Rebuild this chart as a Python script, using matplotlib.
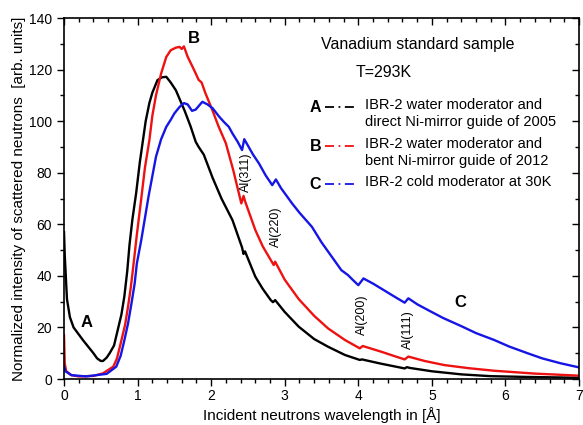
import numpy as np
import matplotlib
matplotlib.use('Agg')
import matplotlib.pyplot as plt
from matplotlib.ticker import MultipleLocator

plt.rcParams['font.family'] = ['Liberation Sans', 'DejaVu Sans']

#------------------------------------DATA----------------------------------------#

# A: IBR-2 water moderator, direct Ni-mirror guide (2005)
wl_a = [0, 0.01, 0.04, 0.08, 0.13, 0.26, 0.40, 0.45, 0.50, 0.53, 0.58, 0.62, 0.68, 0.73,
        0.78, 0.82, 0.86, 0.89, 0.93, 0.98, 1.03, 1.07, 1.11, 1.16, 1.20, 1.27, 1.33, 1.39,
        1.45, 1.52, 1.64, 1.72, 1.79, 1.83, 1.90, 2.02, 2.14, 2.29, 2.42, 2.44, 2.46, 2.60,
        2.70, 2.81, 2.84, 2.87, 3.00, 3.19, 3.40, 3.59, 3.82, 4.02, 4.05, 4.30, 4.63, 4.66,
        4.70, 5.00, 5.40, 5.80, 6.30, 7.00]
int_a = [57, 48, 31, 24, 20, 15, 10, 8, 7, 7, 8.3, 10, 13, 19,
         25, 32, 42, 52, 62, 72, 84, 92, 100, 107, 111, 115.9, 117, 117.2,
         115, 112, 104, 98, 92, 90, 87, 78, 70, 61.6, 51, 48.5, 49.5, 39.7,
         35, 30.6, 29.8, 30.6, 26, 20.3, 15.5, 12.5, 9.3, 7.4, 7.6, 6.0, 4.1, 4.6,
         4.3, 3.0, 1.8, 1.1, 0.8, 0.5]

# B: IBR-2 water moderator, bent Ni-mirror guide (2012)
wl_b = [0, 0.01, 0.03, 0.10, 0.20, 0.40, 0.53, 0.67, 0.72, 0.78, 0.83, 0.87, 0.91, 0.946,
        0.99, 1.05, 1.10, 1.16, 1.20, 1.25, 1.32, 1.39, 1.45, 1.52, 1.57, 1.60, 1.63, 1.68,
        1.74, 1.79, 1.83, 1.87, 1.92, 2.02, 2.10, 2.20, 2.30, 2.41, 2.44, 2.46, 2.60, 2.70,
        2.85, 2.87, 3.00, 3.19, 3.40, 3.59, 3.82, 4.02, 4.06, 4.31, 4.50, 4.63, 4.68, 4.90,
        5.17, 5.50, 5.85, 6.40, 7.00]
int_b = [17, 6, 3, 1.5, 1, 1.2, 2.2, 4.8, 8, 15, 21, 28, 36, 44.8,
         56, 70, 82, 92.6, 102, 110, 118.5, 124.9, 127.5, 128.5, 128.8, 128, 129, 125,
         121.5, 118.5, 116, 115, 111, 104, 98, 91.4, 81, 68.1, 71, 69, 57.8, 51.5,
         44.2, 45.5, 38.5, 31, 24.5, 19.6, 15.1, 11.9, 12.8, 10.6, 8.8, 7.6, 8.7, 7,
         5.4, 4.2, 3.2, 2.1, 1.3]

# C: IBR-2 cold moderator at 30K
wl_c = [0, 0.02, 0.10, 0.30, 0.58, 0.71, 0.77, 0.82, 0.87, 0.915, 0.96, 0.99, 1.05, 1.15,
        1.25, 1.32, 1.39, 1.45, 1.50, 1.57, 1.63, 1.68, 1.74, 1.79, 1.88, 1.95, 2.02, 2.11,
        2.18, 2.24, 2.29, 2.36, 2.42, 2.45, 2.50, 2.57, 2.65, 2.74, 2.83, 2.88, 2.95, 3.10,
        3.20, 3.37, 3.50, 3.60, 3.77, 3.86, 3.93, 4.00, 4.07, 4.20, 4.31, 4.50, 4.63, 4.68,
        4.80, 4.95, 5.15, 5.40, 5.60, 5.85, 6.05, 6.30, 6.50, 6.75, 7.00]
int_c = [5, 3, 1.5, 1, 2, 4.8, 9, 15, 21.5, 29, 37, 44.8, 53.9, 71,
         86.2, 93, 97.8, 100.5, 103, 105.5, 107, 106.5, 104, 104.5, 107.5, 106.5, 105, 101.7,
         99.5, 97.8, 95.2, 92, 88.8, 93, 90.5, 87, 83.6, 79, 75.2, 77.4, 74, 68.1,
         64.5, 59, 53, 49, 42.2, 40.3, 38.3, 36.4, 39, 37, 35.1, 31.8, 29.6, 31.3,
         29, 26.7, 23.7, 20.5, 17.8, 15.1, 12.6, 10, 8, 6.1, 4.5]

series_letters = ['A', 'B', 'C']
series_colors = ['black', '#ee1111', '#1515e6']
legend_labels = ['IBR-2 water moderator and\ndirect Ni-mirror guide of 2005',
                 'IBR-2 water moderator and\nbent Ni-mirror guide of 2012',
                 'IBR-2 cold moderator at 30K']

# Al Bragg edges: label, x, y
al_labels = ['Al(311)', 'Al(220)', 'Al(200)', 'Al(111)']
al_x = [2.47, 2.88, 4.05, 4.68]
al_y = [80, 59, 25, 19]

#------------------------------------PLOTTING----------------------------------------#

fig = plt.figure(figsize=(5.83, 4.25), dpi=100)
ax = fig.add_axes([0.1098, 0.1082, 0.8834, 0.8494])

for xs, ys, col in zip([wl_a, wl_b, wl_c], [int_a, int_b, int_c], series_colors):
    ax.plot(xs, ys, color=col, lw=1.7)

ax.set_xlim(0, 7)
ax.set_ylim(0, 140)
ax.xaxis.set_major_locator(MultipleLocator(1))
ax.xaxis.set_minor_locator(MultipleLocator(0.2))
ax.yaxis.set_major_locator(MultipleLocator(20))
ax.yaxis.set_minor_locator(MultipleLocator(10))
ax.tick_params(which='both', direction='out', labelsize=10, width=1)
ax.tick_params(which='major', length=5)
ax.tick_params(which='minor', length=3)
ax.tick_params(axis='x', which='both', pad=2)
ax.tick_params(which='both', top=True, right=True)
# top / right ticks point inward
for t in ax.xaxis.get_ticklines(minor=False)[1::2] + ax.xaxis.get_ticklines(minor=True)[1::2]:
    t.set_marker(3)
for t in ax.yaxis.get_ticklines(minor=False)[1::2] + ax.yaxis.get_ticklines(minor=True)[1::2]:
    t.set_marker(0)
for sp in ax.spines.values():
    sp.set_linewidth(1.2)

ax.set_xlabel('Incident neutrons wavelength in [\u00c5]', fontsize=11, labelpad=3)
ax.set_ylabel('Normalized intensity of scattered neutrons  [arb. units]', fontsize=11, labelpad=2)

# curve letters
ax.text(0.30, 22, 'A', fontsize=12, fontweight='bold', ha='center', va='center')
ax.text(1.77, 132, 'B', fontsize=12, fontweight='bold', ha='center', va='center')
ax.text(5.39, 29.5, 'C', fontsize=12, fontweight='bold', ha='center', va='center')

for lab, x, y in zip(al_labels, al_x, al_y):
    ax.text(x, y, lab, rotation=90, fontsize=9, ha='center', va='center')

ax.text(0.687, 0.928, 'Vanadium standard sample', transform=ax.transAxes,
        fontsize=11.5, ha='center', va='center')
ax.text(0.621, 0.850, 'T=293K', transform=ax.transAxes, fontsize=11.5, ha='center', va='center')

# hand-made legend
rows = [0.7535, 0.6454, 0.540]
for letter, col, lab, yr in zip(series_letters, series_colors, legend_labels, rows):
    ax.text(0.499, yr, letter, transform=ax.transAxes, fontsize=11.5, fontweight='bold',
            ha='right', va='center')
    ax.plot([0.507, 0.569], [yr, yr], transform=ax.transAxes, color=col, lw=1.3,
            ls=(0, (5, 2.5, 1, 2.5)))
    ax.text(0.584, yr + 0.025, lab, transform=ax.transAxes, fontsize=10.5,
            ha='left', va='top', linespacing=1.25)

plt.savefig('out.png', dpi=100)
